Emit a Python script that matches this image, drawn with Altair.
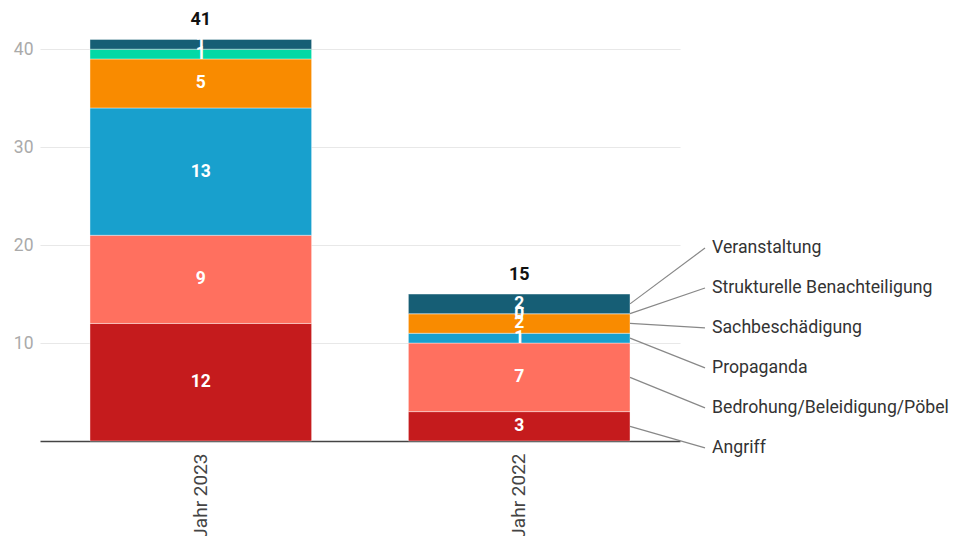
import altair as alt
import pandas as pd

categories = ["Angriff", "Bedrohung/Beleidigung/Pöbel", "Propaganda",
              "Sachbeschädigung", "Strukturelle Benachteiligung", "Veranstaltung"]
years = ["Jahr 2023", "Jahr 2022"]
values_2023 = [12, 9, 13, 5, 1, 1]
values_2022 = [3, 7, 1, 2, 0, 2]
colors = ["#c51b1d", "#ff705f", "#18a0cd", "#f98b00", "#02d9a5", "#165e75"]
y_ticks = [10, 20, 30, 40]

rows = []
for yr, vals in zip(years, [values_2023, values_2022]):
    for i, (c, v) in enumerate(zip(categories, vals)):
        rows.append({"year": yr, "category": c, "value": v, "idx": i})
df = pd.DataFrame(rows)

FONT = "Roboto"

base = alt.Chart(df).transform_stack(
    stack="value", groupby=["year"], sort=[{"field": "idx", "order": "ascending"}],
    as_=["y0", "y1"]
).transform_calculate(mid="(datum.y0 + datum.y1) / 2")

xenc = alt.X("year:N", sort=years, title=None,
             scale=alt.Scale(paddingInner=0.304, paddingOuter=0.157),
             axis=alt.Axis(labelAngle=-90, labelFontSize=19, labelColor="#444",
                           labelFont=FONT, ticks=False, labelPadding=12,
                           domainColor="#444", domainWidth=1.5))
yscale = alt.Scale(domain=[0, 44], nice=False)

bars = base.mark_bar(stroke="white", strokeWidth=0.4).encode(
    x=xenc,
    y=alt.Y("y0:Q", scale=yscale, title=None,
            axis=alt.Axis(values=y_ticks, labelFontSize=17.5, labelColor="#aaa",
                          labelFont=FONT, ticks=False, domain=False, labelPadding=7,
                          gridColor="#e8e8e8", gridWidth=1.2)),
    y2="y1:Q",
    color=alt.Color("category:N", scale=alt.Scale(domain=categories, range=colors), legend=None),
)

seg_labels = base.mark_text(color="white", fontWeight="bold", fontSize=17.5, font=FONT,
                            baseline="middle").encode(
    x=alt.X("year:N", sort=years),
    y=alt.Y("mid:Q", scale=yscale),
    text="value:Q",
)

totals = alt.Chart(df).transform_aggregate(total="sum(value)", groupby=["year"]).mark_text(
    fontWeight="bold", fontSize=18, font=FONT, color="#111", dy=-19, baseline="middle"
).encode(
    x=alt.X("year:N", sort=years),
    y=alt.Y("total:Q", scale=yscale),
    text="total:Q",
)

leader_base = base.transform_filter(alt.datum.year == "Jahr 2022").transform_calculate(
    label_y="-0.7 + 4.08 * datum.idx"
)

leaders = leader_base.mark_rule(color="#888", strokeWidth=1.2).encode(
    x=alt.X("year:N", sort=years, bandPosition=1),
    x2=alt.value(665),
    y=alt.Y("mid:Q", scale=yscale),
    y2="label_y:Q",
)

leader_text = leader_base.mark_text(align="left", baseline="middle", fontSize=17.7,
                                    font=FONT, color="#333").encode(
    x=alt.value(672),
    y=alt.Y("label_y:Q", scale=yscale),
    text="category:N",
)

chart = alt.layer(bars, seg_labels, totals, leaders, leader_text).properties(
    width=640, height=431, padding={"top": 2, "left": 5, "right": 0, "bottom": 5}
).configure_view(stroke=None)

chart.save("out.html", embed_options={"renderer": "svg", "actions": False})
